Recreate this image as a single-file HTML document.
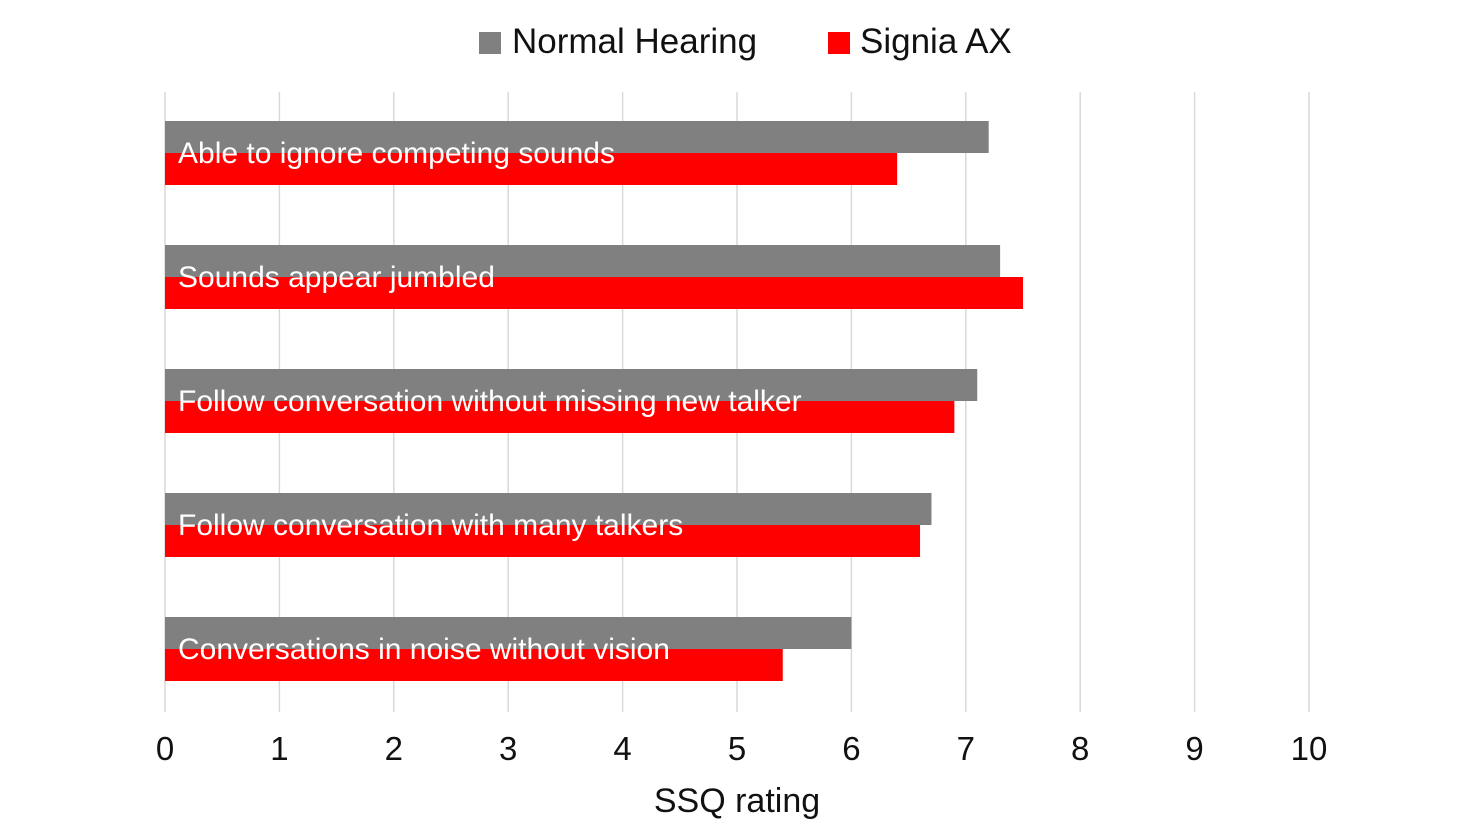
<!DOCTYPE html>
<html><head><meta charset="utf-8"><style>
body{margin:0;background:#fff;}
svg{display:block;font-family:"Liberation Sans",sans-serif;}
</style></head><body>
<svg id="chart" width="1481" height="833" viewBox="0 0 1481 833">
<g>
<rect x="479" y="32" width="22" height="22" fill="#808080"/>
<text x="512" y="53" font-size="35" fill="#111">Normal Hearing</text>
<rect x="828" y="32" width="22" height="22" fill="#ff0000"/>
<text x="860" y="53" font-size="35" fill="#111">Signia AX</text>
</g>
<g id="grid"></g><g id="bars"></g><g id="ticks"></g>
<text x="737" y="812" font-size="34" text-anchor="middle" fill="#111">SSQ rating</text>
</svg>
<script>
const categories=["Able to ignore competing sounds","Sounds appear jumbled","Follow conversation without missing new talker","Follow conversation with many talkers","Conversations in noise without vision"];
const normalHearing=[7.2,7.3,7.1,6.7,6.0];
const signiaAX=[6.4,7.5,6.9,6.6,5.4];
const tickLabels=["0","1","2","3","4","5","6","7","8","9","10"];
const NS="http://www.w3.org/2000/svg";
const x0=165,x1=1309,xmax=10;
const xs=v=>x0+(x1-x0)*v/xmax;
const plotTop=92,plotBottom=712,band=(plotBottom-plotTop)/categories.length;
const bh=32;
function mk(t,a,p){const e=document.createElementNS(NS,t);for(const k in a)e.setAttribute(k,a[k]);p.appendChild(e);return e;}
const grid=document.getElementById('grid'),bars=document.getElementById('bars'),ticks=document.getElementById('ticks');
tickLabels.forEach((t,i)=>{
 const v=+t;
 const l=mk('line',{x1:xs(v),x2:xs(v),y1:plotTop,y2:plotBottom,stroke:'#d9d9d9','stroke-width':1.5},grid);
 
 
 const tx=mk('text',{x:xs(v),y:760,'font-size':33,'text-anchor':'middle',fill:'#111'},ticks);
 tx.textContent=t;
 
 
});
categories.forEach((c,i)=>{
 const mid=plotTop+band*i+band/2-1;
 const g=mk('rect',{x:x0,y:mid-bh,width:xs(normalHearing[i])-x0,height:bh,fill:'#808080'},bars);
 
 
 const r=mk('rect',{x:x0,y:mid,width:xs(signiaAX[i])-x0,height:bh,fill:'#ff0000'},bars);
 
 
 const t=mk('text',{x:178,y:mid+10,'font-size':30,fill:'#fff'},bars);
 t.textContent=c;
 
 
});
</script>
</body></html>
